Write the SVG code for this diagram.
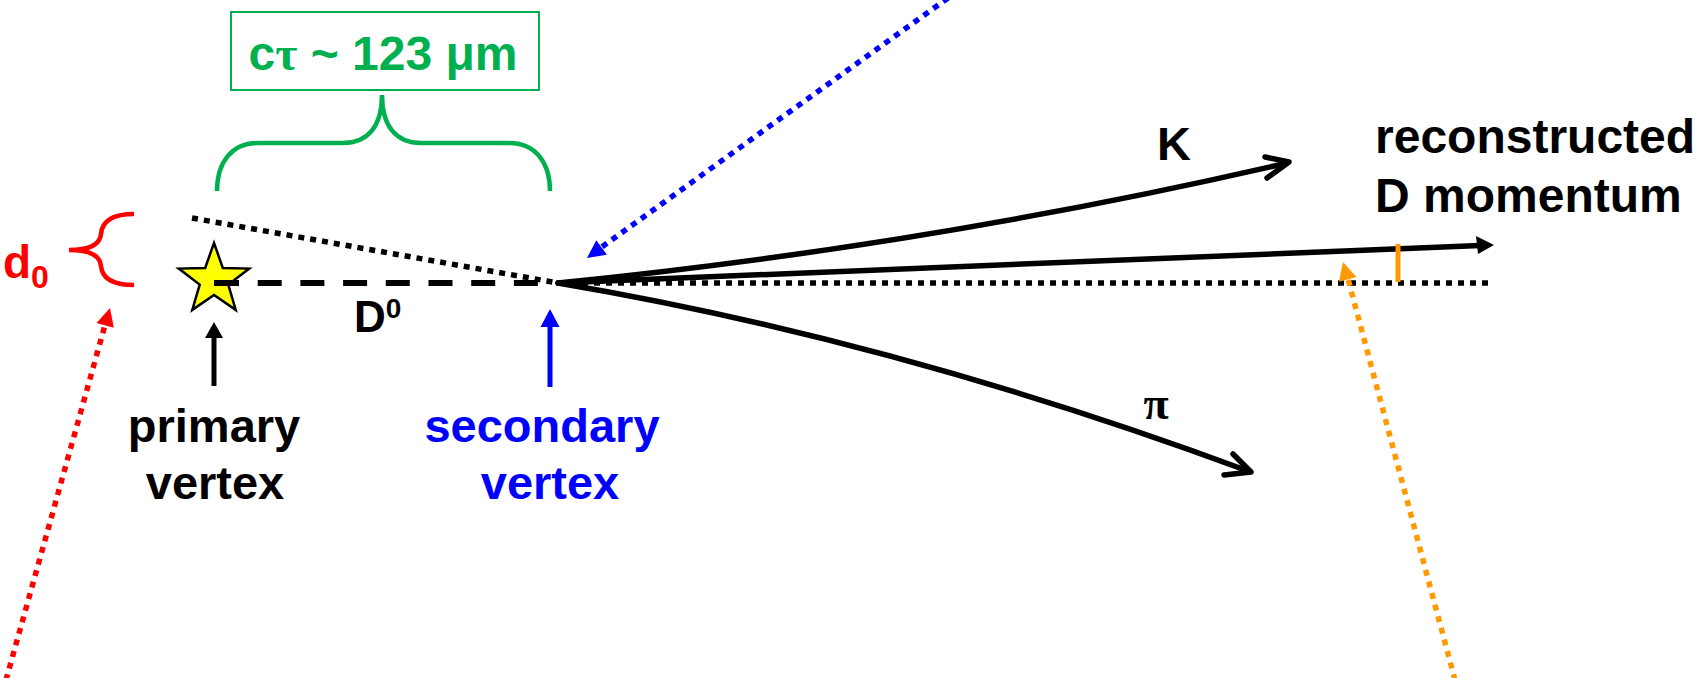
<svg xmlns="http://www.w3.org/2000/svg" width="1700" height="678" viewBox="0 0 1700 678">
<style>
text{font-family:"Liberation Sans",Arial,sans-serif;font-weight:bold;}
.lbl{font-size:47px;}
.trk{fill:none;stroke:#000;stroke-width:5.5;stroke-linecap:round;}
.dot{fill:none;stroke-width:5.5;stroke-dasharray:6 6;}
</style>
<rect width="1700" height="678" fill="#fff"/>

<g id="connectors">
  <path class="trk" d="M558,283 Q928,246 1287,163"/>
  <polyline class="trk" points="1265,157 1289,162 1267,178" stroke-linejoin="round"/>
  <path class="trk" d="M558,283 Q895,340 1248,471"/>
  <polyline class="trk" points="1233,454 1251,472 1224,475" stroke-linejoin="round"/>
  <line x1="558" y1="283" x2="1480" y2="245.5" stroke="#000" stroke-width="5.5"/>
  <polygon points="1494,245 1476,236 1478,254" fill="#000"/>
  <line x1="215" y1="283" x2="558" y2="283" stroke="#000" stroke-width="6" stroke-dasharray="24 18.7"/>
  <line class="dot" x1="192" y1="218" x2="558" y2="283" stroke="#000"/>
  <line class="dot" x1="558" y1="283" x2="1494" y2="283" stroke="#000"/>
  <line x1="1398" y1="244" x2="1398" y2="282" stroke="#FF9900" stroke-width="5"/>
  <line x1="214" y1="336" x2="214" y2="386" stroke="#000" stroke-width="5"/>
  <polygon points="214,322 205,338 223,338" fill="#000"/>
  <line x1="550" y1="325" x2="550" y2="387" stroke="#0000FF" stroke-width="5"/>
  <polygon points="550,309 540.5,327 559.5,327" fill="#0000FF"/>
  <line class="dot" x1="6" y1="680" x2="105" y2="325" stroke="#FF0000"/>
  <polygon points="110,308 113.8,327.7 96.5,322.9" fill="#FF0000"/>
  <line class="dot" x1="948" y1="-2" x2="601" y2="247.5" stroke="#0000FF"/>
  <polygon points="587,258 606.9,254.8 596.3,240.2" fill="#0000FF"/>
  <line class="dot" x1="1455" y1="680" x2="1348" y2="279" stroke="#FF9900"/>
  <polygon points="1343,262 1356.4,277.1 1339,281.7" fill="#FF9900"/>
</g>

<g id="primary-vertex">
  <polygon points="214,243 222.8,267.9 249.2,268.6 228.3,284.6 235.7,309.9 214,295 192.3,309.9 199.7,284.6 178.8,268.6 205.2,267.9" fill="#FFFF00" stroke="#000" stroke-width="2.5"/>
  <line x1="214" y1="283" x2="238" y2="283" stroke="#000" stroke-width="6"/>
</g>

<g id="ctau-label">
  <rect x="231" y="12" width="308" height="78" fill="none" stroke="#00B050" stroke-width="2"/>
  <text x="383" y="70" text-anchor="middle" font-size="48" fill="#00B050">c<tspan font-family="Liberation Serif">τ</tspan> ~ 123 μm</text>
</g>

<g id="ctau-brace">
  <path d="M217,191 C217,162 232,143 258,143 L343,143 C368,143 382,126 382,95 C382,126 396,143 421,143 L509,143 C535,143 550,162 550,191" fill="none" stroke="#00B050" stroke-width="4.5"/>
</g>

<g id="d0-label">
  <path d="M134,214 C112,214 102,222 101,234 C100,246 88,250 69,250 C88,250 100,254 101,266 C102,278 112,285 134,285" fill="none" stroke="#FF0000" stroke-width="4.5"/>
  <text x="3" y="278" font-size="46" fill="#FF0000">d<tspan font-size="32" dy="10">0</tspan></text>
</g>

<g id="D0-label">
  <text x="354" y="332" font-size="44" fill="#000">D<tspan font-size="28" dy="-14">0</tspan></text>
</g>

<g id="primary-label">
  <text class="lbl" x="214" y="442" text-anchor="middle" fill="#000">primary</text>
  <text class="lbl" x="215" y="499" text-anchor="middle" fill="#000">vertex</text>
</g>

<g id="secondary-label">
  <text class="lbl" x="542" y="442" text-anchor="middle" fill="#0000FF">secondary</text>
  <text class="lbl" x="550" y="499" text-anchor="middle" fill="#0000FF">vertex</text>
</g>

<g id="K-label">
  <text class="lbl" x="1157" y="160" fill="#000">K</text>
</g>

<g id="pi-label">
  <text x="1156" y="419" text-anchor="middle" font-size="46" fill="#000" style="font-family:'Liberation Serif',serif">π</text>
</g>

<g id="reco-label">
  <text x="1375" y="153" font-size="48" fill="#000">reconstructed</text>
  <text x="1375" y="212" font-size="48" fill="#000">D momentum</text>
</g>
</svg>
